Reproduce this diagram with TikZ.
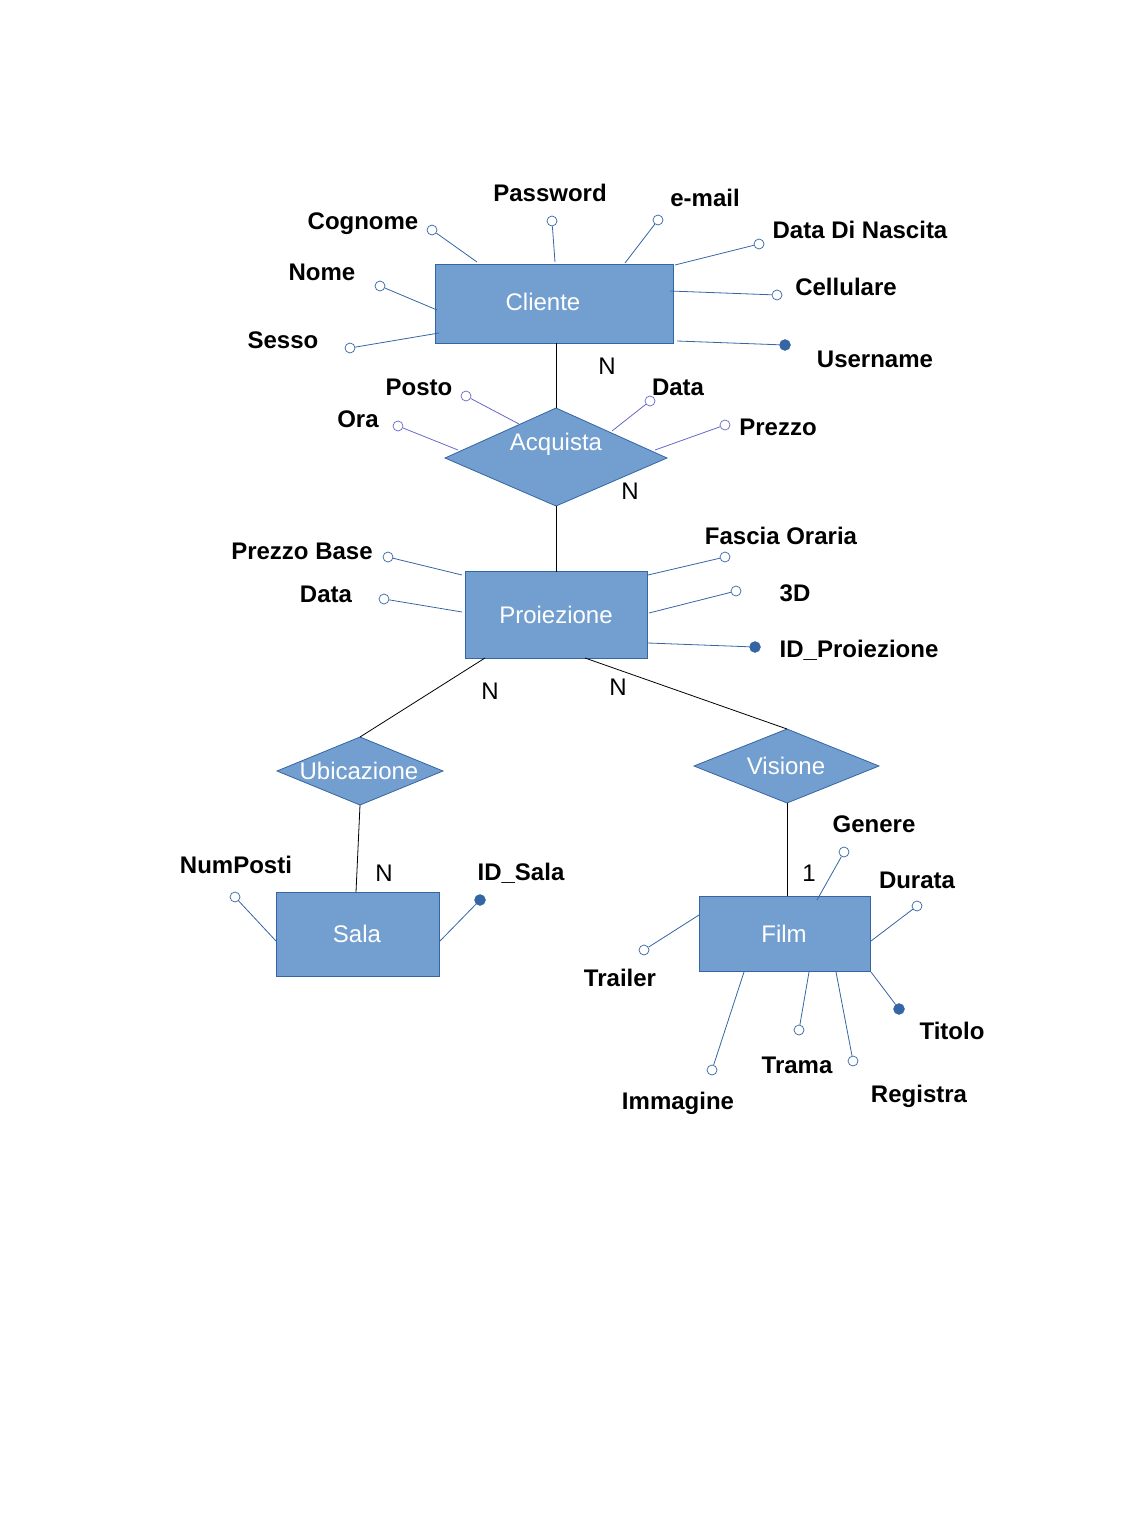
\documentclass[tikz,border=0pt]{standalone}
\usepackage{fontspec}
\setmainfont{Liberation Sans}
\usetikzlibrary{shapes.geometric}
\definecolor{efill}{HTML}{729FCF}
\definecolor{eline}{HTML}{3465A4}
\definecolor{pline}{HTML}{6666CC}
\tikzset{
  ent/.style={draw=eline, fill=efill, inner sep=0pt, line width=0.8pt},
  rel/.style={diamond, draw=eline, fill=efill, inner sep=0pt, line width=0.8pt},
  etext/.style={text=white, font=\fontsize{24}{28}\selectfont},
  lbl/.style={font=\fontsize{24}{28}\selectfont\bfseries, inner sep=0pt},
  card/.style={font=\fontsize{24}{28}\selectfont, inner sep=0pt},
  oc/.style={circle, draw=eline, fill=white, minimum size=10pt, inner sep=0pt, line width=0.7pt},
  fc/.style={circle, draw=eline, fill=eline, minimum size=11pt, inner sep=0pt},
  pc/.style={circle, draw=pline, fill=white, minimum size=10pt, inner sep=0pt, line width=0.7pt},
  al/.style={draw=eline, line width=0.8pt},
  pl/.style={draw=pline, line width=0.8pt},
  cl/.style={draw=black, line width=0.8pt},
}
\begin{document}
\begin{tikzpicture}[x=1pt,y=-1pt]
\useasboundingbox (0,0) rectangle (1134,1538);
% entities
\draw[ent] (435,264) rectangle (673,343);
\coordinate (cli) at (554,303);
\node[etext] at (543,302) {Cliente};
\draw[ent] (465,571) rectangle (647,658);
\node[etext] (proi) at (556,615) {Proiezione};
\draw[ent] (276,892) rectangle (439,976);
\node[etext] (sala) at (357,934) {Sala};
\draw[ent] (699,896) rectangle (870,971);
\node[etext] (film) at (784,934) {Film};
% relationships
\draw[ent] (556,408) -- (667,458) -- (556,506) -- (445,458) -- cycle;
\node[etext] (acq) at (556,444) {Acquista};
\draw[ent] (360,737) -- (443,771) -- (360,805) -- (277,771) -- cycle;
\node[etext] (ubi) at (359,771) {Ubicazione};
\draw[ent] (787,729) -- (879,766) -- (787,803) -- (694,766) -- cycle;
\node[etext] (vis) at (786,766) {Visione};
% connectors
\coordinate (c1) at (556,343); \coordinate (c2) at (556,408);
\draw[cl] (c1) -- (c2);
\coordinate (c3) at (556,506); \coordinate (c4) at (556,572);
\draw[cl] (c3) -- (c4);
\coordinate (c5) at (485,658); \coordinate (c6) at (360,737);
\draw[cl] (c5) -- (c6);
\coordinate (c7) at (585,658); \coordinate (c8) at (787,729);
\draw[cl] (c7) -- (c8);
\coordinate (c9) at (360,805); \coordinate (c10) at (356,892);
\draw[cl] (c9) -- (c10);
\coordinate (c11) at (787,803); \coordinate (c12) at (787,896);
\draw[cl] (c11) -- (c12);
\node[card] (n1) at (607,366) {N};
\node[card] (n2) at (630,491) {N};
\node[card] (n3) at (490,691) {N};
\node[card] (n4) at (618,687) {N};
\node[card] (n5) at (384,873) {N};
\node[card] (n6) at (809,873) {1};
% Cliente attributes
\node[oc] (a1) at (432,230) {}; \draw[al] (477,262) -- (a1); \node[lbl] at (363,224) {Cognome};
\node[oc] (a2) at (552,221) {}; \draw[al] (555,262) -- (a2); \node[lbl] at (550,193) {Password};
\node[oc] (a3) at (658,220) {}; \draw[al] (625,263) -- (a3); \node[lbl] at (705,198) {e-mail};
\node[oc] (a4) at (759,244) {}; \draw[al] (675,265) -- (a4); \node[lbl] at (860,230) {Data Di Nascita};
\node[oc] (a5) at (777,295) {}; \draw[al] (670,291) -- (a5); \node[lbl] at (846,287) {Cellulare};
\node[fc] (a6) at (785,345) {}; \draw[al] (677,341) -- (a6); \node[lbl] at (875,359) {Username};
\node[oc] (a7) at (380,286) {}; \draw[al] (437,310) -- (a7); \node[lbl] at (322,272) {Nome};
\node[oc] (a8) at (350,348) {}; \draw[al] (439,333) -- (a8); \node[lbl] at (283,340) {Sesso};
% Acquista attributes
\node[pc] (b1) at (466,396) {}; \draw[pl] (519,424) -- (b1); \node[lbl] at (419,387) {Posto};
\node[pc] (b2) at (398,426) {}; \draw[pl] (458,450) -- (b2); \node[lbl] at (358,419) {Ora};
\node[pc] (b3) at (650,401) {}; \draw[pl] (612,431) -- (b3); \node[lbl] at (678,387) {Data};
\node[pc] (b4) at (725,425) {}; \draw[pl] (655,450) -- (b4); \node[lbl] at (778,427) {Prezzo};
% Proiezione attributes
\node[oc] (p1) at (388,557) {}; \draw[al] (462,575) -- (p1); \node[lbl] at (302,551) {Prezzo Base};
\node[oc] (p2) at (384,599) {}; \draw[al] (462,612) -- (p2); \node[lbl] at (326,594) {Data};
\node[oc] (p3) at (725,557) {}; \draw[al] (648,575) -- (p3); \node[lbl] at (781,536) {Fascia Oraria};
\node[oc] (p4) at (736,591) {}; \draw[al] (649,613) -- (p4); \node[lbl] at (795,593) {3D};
\node[fc] (p5) at (755,647) {}; \draw[al] (648,643) -- (p5); \node[lbl] at (859,650) {ID\_Proiezione};
% Sala attributes
\node[oc] (s1) at (235,897) {}; \draw[al] (276,941) -- (s1); \node[lbl] at (236,865) {NumPosti};
\node[fc] (s2) at (480,900) {}; \draw[al] (440,941) -- (s2); \node[lbl] at (521,873) {ID\_Sala};
% Film attributes
\node[oc] (f1) at (844,852) {}; \draw[al] (817,900) -- (f1); \node[lbl] at (874,824) {Genere};
\node[oc] (f2) at (917,906) {}; \draw[al] (871,941) -- (f2); \node[lbl] at (917,880) {Durata};
\node[oc] (f3) at (644,950) {}; \draw[al] (699,915) -- (f3); \node[lbl] at (620,978) {Trailer};
\node[fc] (f4) at (899,1009) {}; \draw[al] (871,972) -- (f4); \node[lbl] at (952,1031) {Titolo};
\node[oc] (f5) at (799,1030) {}; \draw[al] (809,972) -- (f5); \node[lbl] at (797,1065) {Trama};
\node[oc] (f6) at (853,1061) {}; \draw[al] (836,972) -- (f6); \node[lbl] at (919,1096) {Registra};
\node[oc] (f7) at (712,1070) {}; \draw[al] (744,972) -- (f7); \node[lbl] at (678,1103) {Immagine};
\end{tikzpicture}
\end{document}
